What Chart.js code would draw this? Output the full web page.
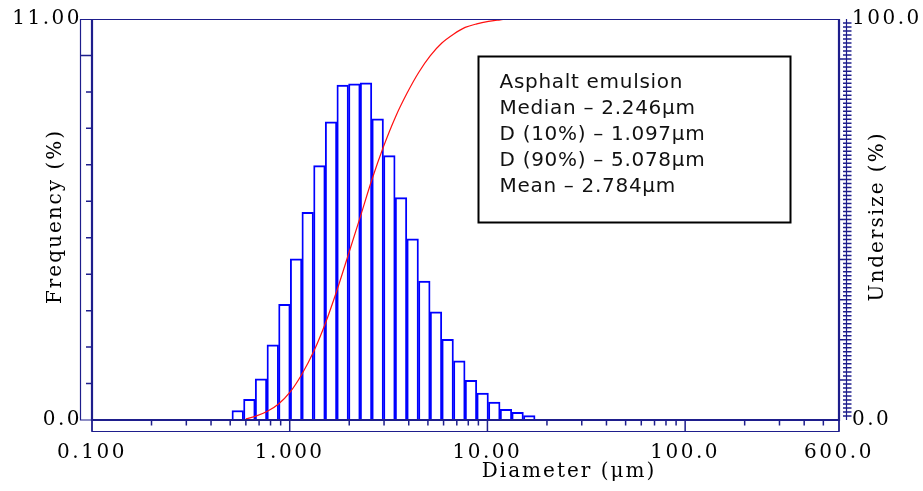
<!DOCTYPE html>
<html>
<head>
<meta charset="utf-8">
<script src="https://cdn.jsdelivr.net/npm/chart.js@4.4.1/dist/chart.umd.min.js"></script>
<style>
html,body{margin:0;padding:0;background:#fff;}
#wrap{position:relative;width:923px;height:491px;}
</style>
</head>
<body>
<div id="wrap"><canvas id="c"></canvas></div>
<script>
// ---- data ----
const diameters = [0.546,0.625,0.716,0.821,0.940,1.077,1.233,1.413,1.618,1.853,2.123,2.432,2.786,3.191,3.655,4.186,4.795,5.493,6.292,7.207,8.256,9.456,10.83,12.41,14.21,16.28];
const frequency = [0.26,0.57,1.13,2.06,3.17,4.42,5.70,6.98,8.18,9.19,9.22,9.25,8.26,7.25,6.10,4.97,3.81,2.97,2.21,1.62,1.09,0.74,0.49,0.29,0.21,0.12];
const undersizeX = [0.60,0.669,0.767,0.878,1.006,1.152,1.320,1.512,1.732,1.984,2.273,2.603,2.982,3.415,3.912,4.481,5.133,5.881,6.736,7.715,8.837,10.12,11.60,12.5];
const undersizeY = [0.3,0.9,2.1,4.0,7.0,11.4,17.0,24.0,32.3,41.4,50.6,59.9,68.2,75.4,81.4,86.6,90.8,94.0,96.2,97.9,98.8,99.4,99.8,100];

const xTickValues = [0.1,1,10,100,600];
const xTickLabels = ['0.100','1.000','10.00','100.0','600.0'];
const xMinorTicks = [0.2,0.3,0.4,0.5,0.6,0.7,0.8,0.9,2,3,4,5,6,7,8,9,20,30,40,50,60,70,80,90,200,300,400,500];
const yLeftTickValues = [0,11];
const yLeftTickLabels = ['0.0','11.00'];
const yLeftMinorTicks = [1,2,3,4,5,6,7,8,9,10];
const yLeftLongTicks = [10];
const yRightTickValues = [0,100];
const yRightTickLabels = ['0.0','100.0'];
const yRightMinorStep = 1;
const yRightMajorStep = 10;
const infoLines = ['Asphalt emulsion','Median \u2013 2.246\u03bcm','D (10%) \u2013 1.097\u03bcm','D (90%) \u2013 5.078\u03bcm','Mean \u2013 2.784\u03bcm'];
const xTitle = 'Diameter (\u03bcm)';
const yLeftTitle = 'Frequency (%)';
const yRightTitle = 'Undersize (%)';

const NAVY = '#1e1e8c';
const SERIF = '"DejaVu Serif", serif';

function labelFor(values, labels, v) {
  for (let i = 0; i < values.length; i++) if (Math.abs(values[i] - v) < 1e-9) return labels[i];
  return '';
}

const framePlugin = {
  id: 'frame',
  beforeDraw(chart) { chart.ctx.letterSpacing = '2.5px'; },
  afterDraw(chart) {
    const {ctx, chartArea: a, scales} = chart;
    const sx = scales.x, yl = scales.y, yr = scales.y2;
    ctx.save();
    ctx.strokeStyle = NAVY;
    // bands (thin)
    ctx.lineWidth = 1.2;
    ctx.beginPath();
    ctx.moveTo(a.left, a.top + 0.5); ctx.lineTo(a.left - 11.5, a.top + 0.5);
    ctx.lineTo(a.left - 11.5, a.bottom); ctx.lineTo(a.left, a.bottom);
    ctx.moveTo(a.left, a.top + 0.5); ctx.lineTo(a.right, a.top + 0.5);
    ctx.moveTo(a.left, a.bottom); ctx.lineTo(a.left, a.bottom + 11.5);
    ctx.lineTo(a.right, a.bottom + 11.5); ctx.lineTo(a.right, a.bottom);
    ctx.moveTo(a.right + 7.5, a.top); ctx.lineTo(a.right + 7.5, a.bottom);
    ctx.stroke();

    // ticks
    ctx.lineWidth = 1.5;
    ctx.beginPath();
    xMinorTicks.forEach(v => { const p = sx.getPixelForValue(v); ctx.moveTo(p, a.bottom); ctx.lineTo(p, a.bottom + 5.5); });
    xTickValues.forEach(v => { const p = sx.getPixelForValue(v); ctx.moveTo(p, a.bottom); ctx.lineTo(p, a.bottom + 11.5); });
    yLeftMinorTicks.forEach(v => {
      const p = yl.getPixelForValue(v);
      const len = yLeftLongTicks.includes(v) ? 11.5 : 6;
      ctx.moveTo(a.left, p); ctx.lineTo(a.left - len, p);
    });
    for (let v = yRightMinorStep; v < 100; v += yRightMinorStep) {
      const p = yr.getPixelForValue(v);
      ctx.moveTo(a.right + 4, p); ctx.lineTo(a.right + 12.5, p);
      if (v % yRightMajorStep === 0) { ctx.moveTo(a.right, p); ctx.lineTo(a.right + 7.5, p); }
    }
    ctx.stroke();

    // main axis lines (thick)
    ctx.lineWidth = 2.2;
    ctx.beginPath();
    ctx.moveTo(a.left, a.top); ctx.lineTo(a.left, a.bottom + 1);
    ctx.moveTo(a.right, a.top); ctx.lineTo(a.right, a.bottom + 1);
    ctx.moveTo(a.left - 1, a.bottom); ctx.lineTo(a.right + 1, a.bottom);
    ctx.stroke();

    // axis titles
    ctx.fillStyle = '#000';
    ctx.font = '20px ' + SERIF;
    ctx.letterSpacing = '2px';
    ctx.textAlign = 'center';
    ctx.textBaseline = 'middle';
    const cy = (a.top + a.bottom) / 2 - 3;
    ctx.save(); ctx.translate(a.left - 36, cy); ctx.rotate(-Math.PI / 2); ctx.fillText(yLeftTitle, 0, 0); ctx.restore();
    ctx.save(); ctx.translate(a.right + 39, cy); ctx.rotate(-Math.PI / 2); ctx.fillText(yRightTitle, 0, 0); ctx.restore();
    ctx.textBaseline = 'alphabetic';
    ctx.fillText(xTitle, a.left + 477, a.bottom + 57);

    // info box
    const bx = a.left + 386.5, by = a.top + 37.5, bw = 312, bh = 166;
    ctx.fillStyle = '#fff';
    ctx.fillRect(bx, by, bw, bh);
    ctx.strokeStyle = '#000';
    ctx.lineWidth = 2;
    ctx.strokeRect(bx, by, bw, bh);
    ctx.fillStyle = '#111';
    ctx.letterSpacing = '0.7px';
    ctx.font = '20px "DejaVu Sans", Verdana, sans-serif';
    ctx.textAlign = 'left';
    ctx.textBaseline = 'alphabetic';
    infoLines.forEach((t, i) => ctx.fillText(t, bx + 21, by + 31 + i * 26));
    ctx.restore();
  }
};

new Chart(document.getElementById('c'), {
  type: 'bar',
  data: {
    datasets: [
      {
        type: 'line',
        label: 'Undersize',
        data: undersizeX.map((x, i) => ({x, y: undersizeY[i]})),
        xAxisID: 'x', yAxisID: 'y2',
        borderColor: '#ff1010', borderWidth: 1.2,
        pointRadius: 0, fill: false,
        cubicInterpolationMode: 'monotone',
        order: 0
      },
      {
        type: 'bar',
        label: 'Frequency',
        data: diameters.map((x, i) => ({x, y: frequency[i]})),
        xAxisID: 'x', yAxisID: 'y',
        backgroundColor: '#ffffff',
        borderColor: '#0000ff',
        borderWidth: {top: 2, left: 1.9, right: 1.9, bottom: 0},
        borderSkipped: false,
        barPercentage: 1, categoryPercentage: 1,
        order: 1
      }
    ]
  },
  options: {
    responsive: true,
    maintainAspectRatio: false,
    animation: false,
    events: [],
    layout: {padding: {top: 19, left: 0, right: 0, bottom: 0}},
    plugins: {legend: {display: false}, tooltip: {enabled: false}, title: {display: false}},
    scales: {
      x: {
        type: 'logarithmic', position: 'bottom', min: 0.1, max: 600,
        afterBuildTicks: s => { s.ticks = xTickValues.map(v => ({value: v})); },
        afterFit: s => { s.height = 71; s.paddingLeft = 0; s.paddingRight = 0; },
        border: {display: false},
        grid: {display: true, drawOnChartArea: false, drawTicks: false, color: 'rgba(0,0,0,0)'},
        ticks: {
          autoSkip: false, maxRotation: 0, minRotation: 0, padding: 21,
          color: '#000', font: {family: SERIF, size: 20},
          callback: v => labelFor(xTickValues, xTickLabels, v)
        }
      },
      y: {
        type: 'linear', position: 'left', min: 0, max: 11,
        afterBuildTicks: s => { s.ticks = yLeftTickValues.map(v => ({value: v})); },
        afterFit: s => { s.width = 92; s.paddingTop = 0; s.paddingBottom = 0; },
        border: {display: false},
        grid: {display: true, drawOnChartArea: false, drawTicks: false, color: 'rgba(0,0,0,0)'},
        ticks: {
          autoSkip: false, padding: 10, color: '#000', font: {family: SERIF, size: 20},
          callback: v => labelFor(yLeftTickValues, yLeftTickLabels, v)
        }
      },
      y2: {
        type: 'linear', position: 'right', min: 0, max: 100,
        afterBuildTicks: s => { s.ticks = yRightTickValues.map(v => ({value: v})); },
        afterFit: s => { s.width = 84; s.paddingTop = 0; s.paddingBottom = 0; },
        border: {display: false},
        grid: {display: true, drawOnChartArea: false, drawTicks: false, color: 'rgba(0,0,0,0)'},
        ticks: {
          autoSkip: false, padding: 13, color: '#000', font: {family: SERIF, size: 20},
          callback: v => labelFor(yRightTickValues, yRightTickLabels, v)
        }
      }
    }
  },
  plugins: [framePlugin]
});
</script>
</body>
</html>
